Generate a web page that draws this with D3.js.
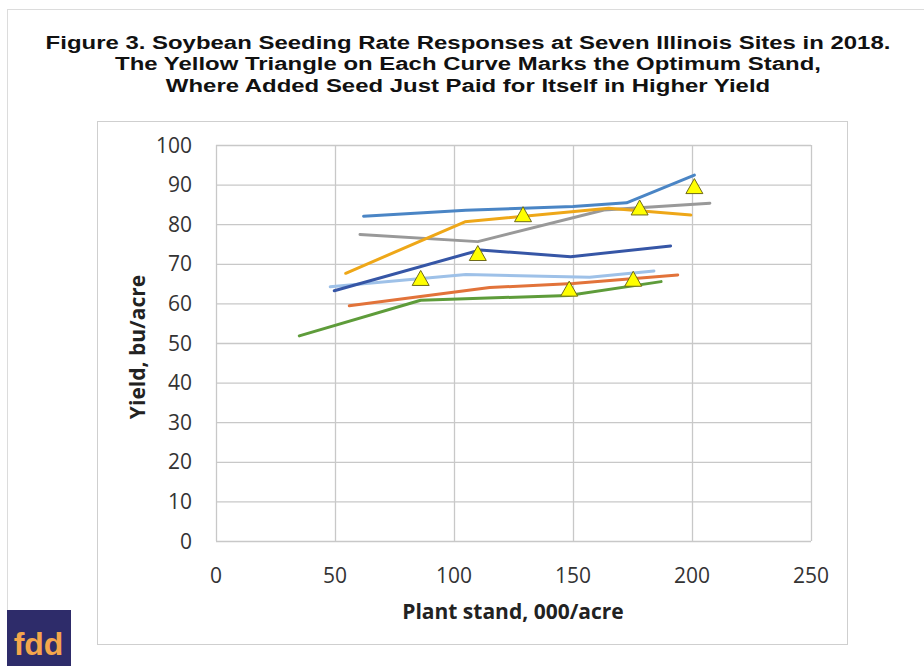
<!DOCTYPE html>
<html lang="en">
  <head>
    <meta charset="UTF-8" />
    <title>Soybean Seeding Rate Responses</title>
    <style>
      body { margin: 0; background: #fff; }
    </style>
  </head>
  <body>
    <script src="https://d3js.org/d3.v7.min.js"></script>
    <script>
      const titleLines = [
        'Figure 3. Soybean Seeding Rate Responses at Seven Illinois Sites in 2018.',
        'The Yellow Triangle on Each Curve Marks the Optimum Stand,',
        'Where Added Seed Just Paid for Itself in Higher Yield',
      ];
      const xTicks = [0, 50, 100, 150, 200, 250];
      const yTicks = [0, 10, 20, 30, 40, 50, 60, 70, 80, 90, 100];

      // plant stand (000/acre) and yield (bu/acre) per site
      const standA = [62, 105, 150, 172.5, 201];
      const yieldA = [82, 83.5, 84.5, 85.4, 92.4];
      const standB = [60.5, 110, 163, 207.5];
      const yieldB = [77.4, 75.6, 83.6, 85.3];
      const standC = [54.5, 104.6, 165, 199.5];
      const yieldC = [67.6, 80.6, 84, 82.3];
      const standD = [49.7, 111, 149, 191];
      const yieldD = [63.2, 73.5, 71.8, 74.5];
      const standE = [48, 105, 157, 184];
      const yieldE = [64.2, 67.3, 66.6, 68.2];
      const standF = [56, 115, 150, 194];
      const yieldF = [59.4, 64, 65, 67.2];
      const standG = [35, 86, 148, 187];
      const yieldG = [51.8, 60.8, 62, 65.5];

      // optimum stand markers
      const optStand = [86, 110, 129, 148.4, 175.3, 178, 201];
      const optYield = [66.3, 72.6, 82.4, 63.6, 66.1, 84.1, 89.5];

      const siteColors = ['#5e9c3a', '#e2733a', '#9ec1e8', '#999999', '#3656a6', '#eea718', '#4a85c5'];

      function makeChart() {
        const W = 924, H = 666;
        const plot = { left: 216, right: 811, top: 145, bottom: 541 };

        const svg = d3.select('body').append('svg')
          .attr('width', W)
          .attr('height', H);

        svg.append('rect').attr('width', W).attr('height', H).attr('fill', '#fff');

        // outer and inner frames
        svg.append('rect')
          .attr('x', 7.5).attr('y', 9.5).attr('width', 940).attr('height', 700)
          .attr('fill', 'none').attr('stroke', '#dcdcdc');
        svg.append('rect')
          .attr('x', 97.5).attr('y', 121.5).attr('width', 750).attr('height', 523)
          .attr('fill', 'none').attr('stroke', '#cfcfcf');

        // title: the source text is stretched sideways
        svg.append('g')
          .attr('transform', 'translate(468,0) scale(1.26,1)')
          .attr('font-family', '"Liberation Sans", Arial, sans-serif')
          .attr('font-weight', 'bold')
          .attr('font-size', 19)
          .attr('text-anchor', 'middle')
          .attr('fill', '#111')
          .selectAll('text')
          .data(titleLines)
          .join('text')
          .attr('x', 0)
          .attr('y', (d, i) => 49 + i * 21.5)
          .text((d) => d);

        const x = d3.scaleLinear().domain([0, 250]).range([plot.left, plot.right]);
        const y = d3.scaleLinear().domain([0, 100]).range([plot.bottom, plot.top]);

        // grid
        svg.append('g')
          .attr('transform', `translate(0,${plot.bottom})`)
          .call(d3.axisBottom(x).tickValues(xTicks).tickSize(-(plot.bottom - plot.top)).tickFormat(''))
          .call((g) => g.select('.domain').remove())
          .call((g) => g.selectAll('line').attr('stroke', '#c8c8c8').attr('stroke-width', 1.3));
        svg.append('g')
          .attr('transform', `translate(${plot.left},0)`)
          .call(d3.axisLeft(y).tickValues(yTicks).tickSize(-(plot.right - plot.left)).tickFormat(''))
          .call((g) => g.select('.domain').remove())
          .call((g) => g.selectAll('line').attr('stroke', '#c8c8c8').attr('stroke-width', 1.3));

        // tick labels
        const tickFont = '"Open Sans", sans-serif';
        svg.append('g')
          .attr('font-family', tickFont).attr('font-size', 21).attr('fill', '#333')
          .attr('text-anchor', 'end')
          .selectAll('text').data(yTicks).join('text')
          .attr('x', 192).attr('y', (d) => y(d)).attr('dy', '0.36em')
          .text((d) => d);
        svg.append('g')
          .attr('font-family', tickFont).attr('font-size', 21).attr('fill', '#333')
          .attr('text-anchor', 'middle')
          .selectAll('text').data(xTicks).join('text')
          .attr('x', (d) => x(d)).attr('y', 583)
          .text((d) => d);

        svg.append('text')
          .attr('font-family', tickFont).attr('font-size', 21).attr('font-weight', 'bold')
          .attr('fill', '#222').attr('text-anchor', 'middle')
          .attr('x', 513).attr('y', 619)
          .text('Plant stand, 000/acre');
        svg.append('text')
          .attr('font-family', tickFont).attr('font-size', 21).attr('font-weight', 'bold')
          .attr('fill', '#222').attr('text-anchor', 'middle')
          .attr('transform', 'translate(145,347) rotate(-90)')
          .text('Yield, bu/acre');

        // site curves
        const sites = [
          [standG, yieldG], [standF, yieldF], [standE, yieldE], [standB, yieldB],
          [standD, yieldD], [standC, yieldC], [standA, yieldA],
        ].map(([s, v]) => s.map((d, i) => [d, v[i]]));

        const line = d3.line().x((d) => x(d[0])).y((d) => y(d[1]));
        svg.append('g')
          .attr('fill', 'none')
          .attr('stroke-width', 3)
          .attr('stroke-linejoin', 'round')
          .attr('stroke-linecap', 'round')
          .selectAll('path').data(sites).join('path')
          .attr('stroke', (d, i) => siteColors[i])
          .attr('d', line);

        // optimum triangles
        const tri = 'M0,-8L8.5,7L-8.5,7Z';
        svg.append('g')
          .selectAll('path').data(optStand).join('path')
          .attr('transform', (d, i) => `translate(${x(d)},${y(optYield[i])})`)
          .attr('d', tri)
          .attr('fill', '#ffff00')
          .attr('stroke', '#6e6a1a')
          .attr('stroke-width', 1);

        // logo
        svg.append('rect')
          .attr('x', 7).attr('y', 610).attr('width', 64).attr('height', 56)
          .attr('fill', '#2e2c6a');
        svg.append('text')
          .attr('x', 38.5).attr('y', 655)
          .attr('text-anchor', 'middle')
          .attr('font-family', '"Liberation Sans", Arial, sans-serif')
          .attr('font-weight', 'bold').attr('font-size', 32)
          .attr('fill', '#f4a64c')
          .text('fdd');
      }
      makeChart();
    </script>
  </body>
</html>
